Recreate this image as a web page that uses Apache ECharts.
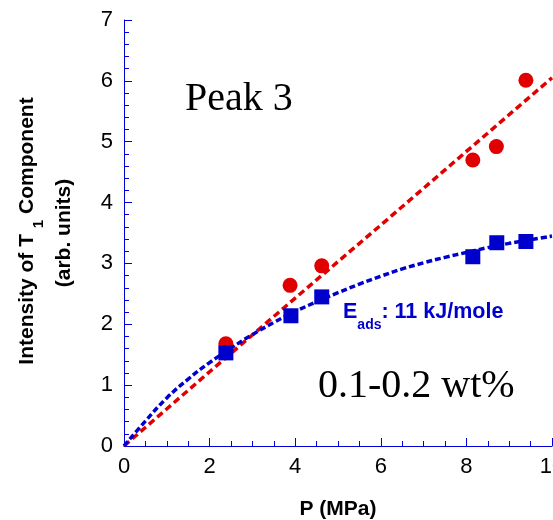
<!DOCTYPE html>
<html>
<head>
<meta charset="utf-8">
<script src="https://cdn.jsdelivr.net/npm/echarts@6/dist/echarts.min.js"></script>
<style>
html,body{margin:0;padding:0;background:#fff;}
#chart{width:553px;height:520px;}
</style>
</head>
<body>
<div id="chart"></div>
<script>
// Measured data points
const redX = [2.38, 3.88, 4.62, 8.15, 8.70, 9.39];
const redY = [1.68, 2.64, 2.96, 4.70, 4.92, 6.01];
const blueX = [2.38, 3.90, 4.62, 8.15, 8.71, 9.39];
const blueY = [1.53, 2.14, 2.45, 3.11, 3.34, 3.36];
// Fit curves
const redFitX = [0, 2, 4, 6, 8, 10];
const redFitY = [0, 1.22, 2.43, 3.63, 4.84, 6.05];
const blueFitX = [0, 0.5, 1, 1.5, 2, 2.5, 3, 3.5, 4, 4.5, 5, 5.5, 6, 6.5, 7, 7.5, 8, 8.5, 9, 9.5, 10];
const blueFitY = [0, 0.41, 0.79, 1.10, 1.37, 1.61, 1.83, 2.03, 2.21, 2.37, 2.52, 2.66, 2.79, 2.91, 3.01, 3.10, 3.18, 3.26, 3.33, 3.39, 3.45];
// Axis ticks
const xTicks = [0, 2, 4, 6, 8, 10];
const yTicks = [0, 1, 2, 3, 4, 5, 6, 7];

const zip = (xs, ys) => xs.map((x, i) => [x, ys[i]]);
const RED = '#e00000';
const BLUE = '#0000cc';
const AXIS = '#0000d8';
const SANS = 'Liberation Sans, Arial, Helvetica, sans-serif';
const SERIF = 'Liberation Serif, Times New Roman, serif';

const chart = echarts.init(document.getElementById('chart'), null, {renderer: 'canvas'});
const axisCommon = {
  type: 'value',
  axisLine: {show: true, lineStyle: {color: AXIS, width: 1}},
  axisTick: {show: true, inside: true, length: 8, lineStyle: {color: AXIS, width: 1}},
  minorTick: {show: true, length: 5, lineStyle: {color: AXIS, width: 1}},
  splitLine: {show: false},
  minorSplitLine: {show: false}
};
chart.setOption({
  animation: false,
  backgroundColor: '#fff',
  grid: {left: 124, right: 1, top: 20, bottom: 74, containLabel: false, outerBoundsMode: 'none'},
  xAxis: Object.assign({}, axisCommon, {
    min: xTicks[0], max: xTicks[xTicks.length - 1], interval: 2,
    minorTick: Object.assign({}, axisCommon.minorTick, {splitNumber: 4}),
    axisLabel: {color: '#000', fontFamily: SANS, fontSize: 22, margin: 10, showMaxLabel: true},
    name: 'P (MPa)', nameLocation: 'middle', nameGap: 53,
    nameTextStyle: {color: '#000', fontFamily: SANS, fontSize: 21, fontWeight: 'bold'}
  }),
  yAxis: Object.assign({}, axisCommon, {
    min: yTicks[0], max: yTicks[yTicks.length - 1], interval: 1,
    minorTick: Object.assign({}, axisCommon.minorTick, {splitNumber: 5}),
    axisLabel: {color: '#000', fontFamily: SANS, fontSize: 22, margin: 11}
  }),
  series: [
    {type: 'line', data: zip(redFitX, redFitY), symbol: 'none', silent: true,
     lineStyle: {color: RED, width: 3.5, type: [7, 4]}, z: 2},
    {type: 'line', data: zip(blueFitX, blueFitY), symbol: 'none', smooth: 0.4, silent: true,
     lineStyle: {color: BLUE, width: 3.5, type: [6, 3]}, z: 3},
    {type: 'scatter', data: zip(redX, redY), symbol: 'circle', symbolSize: 15,
     itemStyle: {color: RED, opacity: 1}, z: 4},
    {type: 'scatter', data: zip(blueX, blueY), symbol: 'rect', symbolSize: 15,
     itemStyle: {color: BLUE, opacity: 1}, z: 5}
  ],
  graphic: [
    {type: 'text', left: 185, top: 79, z: 10,
     style: {text: 'Peak 3', font: '40px ' + SERIF, fill: '#000'}},
    {type: 'text', left: 318, top: 366, z: 10,
     style: {text: '0.1-0.2 wt%', font: '40px ' + SERIF, fill: '#000'}},
    {type: 'text', left: 343, top: 301, z: 10,
     style: {
       text: '{m|E}{s|ads}{m|: 11 kJ/mole}',
       rich: {
         m: {fontFamily: SANS, fontSize: 21.5, fontWeight: 'bold', fill: BLUE, color: BLUE, lineHeight: 40},
         s: {fontFamily: SANS, fontSize: 14, fontWeight: 'bold', fill: BLUE, color: BLUE, lineHeight: 14, verticalAlign: 'bottom'}
       }
     }},
    {type: 'text', x: 27, y: 231, rotation: Math.PI / 2, z: 10,
     style: {
       text: '{m|Intensity of T }{s|1}{m| Component}',
       align: 'center', verticalAlign: 'middle',
       rich: {
         m: {fontFamily: SANS, fontSize: 21, fontWeight: 'bold', fill: '#000', color: '#000', lineHeight: 38},
         s: {fontFamily: SANS, fontSize: 15, fontWeight: 'bold', fill: '#000', color: '#000', lineHeight: 15, verticalAlign: 'bottom'}
       }
     }},
    {type: 'text', x: 64, y: 233, rotation: Math.PI / 2, z: 10,
     style: {text: '(arb. units)', font: 'bold 21px ' + SANS, fill: '#000', align: 'center', verticalAlign: 'middle'}}
  ]
});
</script>
</body>
</html>
